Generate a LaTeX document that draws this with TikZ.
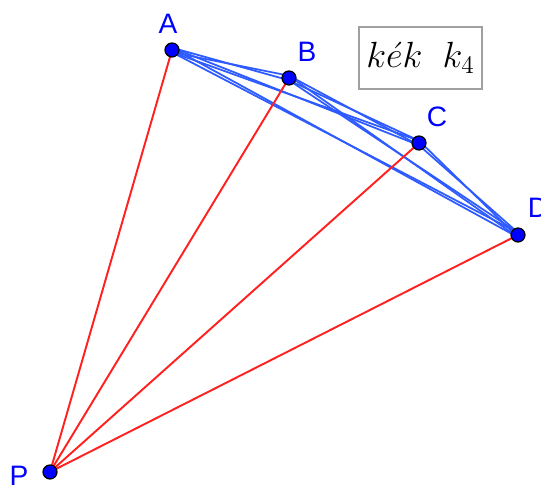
\documentclass[tikz,border=0pt]{standalone}
\usepackage{fontspec}
\setsansfont{Liberation Sans}
\usetikzlibrary{backgrounds}
\definecolor{ptblue}{HTML}{0000FF}
\definecolor{edgeblue}{HTML}{2E5BFF}
\definecolor{rayred}{HTML}{FF2020}
\definecolor{boxgray}{HTML}{A0A0A0}

\begin{document}
\begin{tikzpicture}[
  x=0.02cm, y=0.02cm,
  every node/.style={font=\sffamily},
  vertex/.style={circle, draw=black, fill=ptblue, line width=0.7pt, inner sep=0pt, minimum size=0.28cm},
  lbl/.style={text=ptblue, font=\sffamily\fontsize{16}{18}\selectfont, inner sep=0pt},
  kedge/.style={draw=edgeblue, line width=1pt},
  ray/.style={draw=rayred, line width=1.1pt},
  namebox/.style={draw=boxgray, line width=0.7pt, minimum width=2.46cm, minimum height=1.24cm, align=center}
]
\useasboundingbox (0,0) rectangle (541,489);

\node[vertex] (A) at (172,439) {};
\node[vertex] (B) at (289,411) {};
\node[vertex] (C) at (419,346) {};
\node[vertex] (D) at (518,254) {};
\node[vertex] (P) at (50,17) {};

\node[lbl] (labA) at (168,465) {A};
\node[lbl] (labB) at (307,437) {B};
\node[lbl] (labC) at (437,372) {C};
\node[lbl] (labD) at (538,281) {D};
\node[lbl] (labP) at (19,13) {P};

\node[namebox] (title) at (420.5,431) {\fontsize{21}{24}\selectfont$k\acute{e}k\;\;k_4$};

\begin{scope}[on background layer]
\foreach \u/\v in {A/B,A/C,A/D,B/C,B/D,C/D} {
  \draw[kedge] ([yshift=1.3pt]\u.center) -- ([yshift=-1.3pt]\v.center);
  \draw[kedge] ([yshift=-1.3pt]\u.center) -- ([yshift=1.3pt]\v.center);
}
\foreach \v in {A,B,C,D}
  \draw[ray] (P.center) -- (\v.center);
\end{scope}
\end{tikzpicture}
\end{document}
